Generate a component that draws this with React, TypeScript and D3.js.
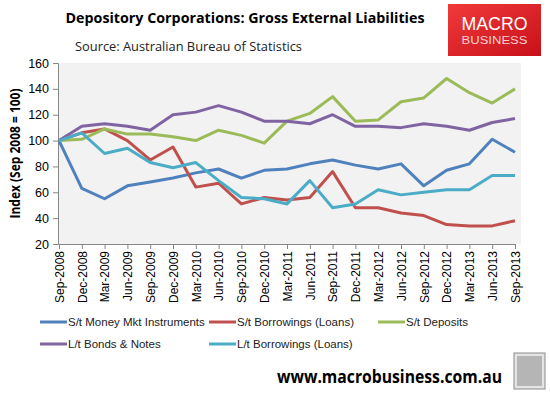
import React, { useRef, useEffect } from "react";
import * as d3 from "d3";

// quarterly categories
const quarters = [
  "Sep-2008", "Dec-2008", "Mar-2009", "Jun-2009", "Sep-2009", "Dec-2009", "Mar-2010",
  "Jun-2010", "Sep-2010", "Dec-2010", "Mar-2011", "Jun-2011", "Sep-2011", "Dec-2011",
  "Mar-2012", "Jun-2012", "Sep-2012", "Dec-2012", "Mar-2013", "Jun-2013", "Sep-2013",
];

// index values (Sep 2008 = 100)
const moneyMkt = [100, 63, 55, 65, 68, 71, 75, 78, 71, 77, 78, 82, 85, 81, 78, 82, 65, 77, 82, 101, 91];
const stBorrowings = [100, 106, 109, 100, 85, 95, 64, 67, 51, 56, 54, 56, 76, 48, 48, 44, 42, 35, 34, 34, 38];
const stDeposits = [100, 101, 109, 105, 105, 103, 100, 108, 104, 98, 115, 121, 134, 115, 116, 130, 133, 148, 137, 129, 140];
const ltBonds = [100, 111, 113, 111, 108, 120, 122, 127, 122, 115, 115, 113, 120, 111, 111, 110, 113, 111, 108, 114, 117];
const ltBorrowings = [100, 106, 90, 94, 83, 79, 83, 69, 56, 55, 51, 69, 48, 51, 62, 58, 60, 62, 62, 73, 73];

const yTicks = [20, 40, 60, 80, 100, 120, 140, 160];

const seriesNames = [
  "S/t Money Mkt Instruments",
  "S/t Borrowings (Loans)",
  "S/t Deposits",
  "L/t Bonds & Notes",
  "L/t Borrowings (Loans)",
];
const seriesColors = ["#4f81bd", "#c0504d", "#9bbb59", "#8064a2", "#4bacc6"];
const seriesValues = [moneyMkt, stBorrowings, stDeposits, ltBonds, ltBorrowings];

const width = 550;
const height = 396;
const plot = { left: 58, right: 521, top: 63, bottom: 244 };

const App = () => {
  const xAxisRef = useRef(null);
  const yAxisRef = useRef(null);

  const xScale = d3.scalePoint().domain(quarters).range([59, 515]);
  const yScale = d3.scaleLinear().domain([20, 160]).range([plot.bottom, plot.top]);

  const line = d3
    .line<number>()
    .x((d, i) => xScale(quarters[i]) as number)
    .y(d => yScale(d));

  useEffect(() => {
    const gx = d3.select(xAxisRef.current);
    gx.selectAll("*").remove();
    gx.call(d3.axisBottom(xScale).tickSizeOuter(0).tickSize(5).tickPadding(3));
    gx.select(".domain").attr("stroke", "#868686");
    gx.selectAll(".tick line").attr("stroke", "#868686");
    gx.selectAll(".tick text")
      .attr("transform", "rotate(-90)")
      .attr("x", -7)
      .attr("y", 0)
      .attr("dy", "0.35em")
      .style("text-anchor", "end")
      .style("font-family", "'Liberation Sans', Arial, sans-serif")
      .style("font-size", "12px")
      .attr("fill", "#000");

    const gy = d3.select(yAxisRef.current);
    gy.selectAll("*").remove();
    gy.call(d3.axisLeft(yScale).tickValues(yTicks).tickSizeOuter(0).tickSize(5).tickPadding(4));
    gy.select(".domain").attr("stroke", "#868686");
    gy.selectAll(".tick line").attr("stroke", "#868686");
    gy.selectAll(".tick text")
      .style("font-family", "'Liberation Sans', Arial, sans-serif")
      .style("font-size", "12.5px")
      .attr("fill", "#000");
  }, []);

  const legendCols = [40, 209, 378];
  const legendRows = [322, 344];

  return (
    <svg
      width={width}
      height={height}
      style={{ position: "absolute", left: 0, top: 0, background: "#fff" }}
    >
      <defs>
        <linearGradient id="logoGrad" x1="0" y1="0" x2="1" y2="1">
          <stop offset="0%" stopColor="#f03a3a" />
          <stop offset="100%" stopColor="#c8101a" />
        </linearGradient>
      </defs>

      {/* title */}
      <text
        x={245}
        y={23}
        textAnchor="middle"
        textLength={359}
        lengthAdjust="spacingAndGlyphs"
        style={{ fontFamily: "'Open Sans', sans-serif", fontWeight: "bold", fontSize: "15px" }}
      >
        Depository Corporations: Gross External Liabilities
      </text>
      <text
        x={75}
        y={51}
        textLength={227}
        lengthAdjust="spacingAndGlyphs"
        style={{ fontFamily: "'Open Sans', sans-serif", fontSize: "13.5px", fill: "#222" }}
      >
        Source: Australian Bureau of Statistics
      </text>

      {/* logo */}
      <rect x={448} y={4} width={93} height={52} fill="url(#logoGrad)" />
      <text
        x={494.5}
        y={30}
        textAnchor="middle"
        textLength={66}
        lengthAdjust="spacingAndGlyphs"
        style={{ fontFamily: "'Liberation Sans', Arial, sans-serif", fontSize: "18px", fill: "#fff" }}
      >
        MACRO
      </text>
      <text
        x={494.5}
        y={43.5}
        textAnchor="middle"
        textLength={66}
        lengthAdjust="spacingAndGlyphs"
        style={{ fontFamily: "'Liberation Sans', Arial, sans-serif", fontSize: "10px", fill: "#f7d0d0" }}
      >
        BUSINESS
      </text>

      {/* plot area */}
      <rect
        x={plot.left}
        y={plot.top}
        width={plot.right - plot.left}
        height={plot.bottom - plot.top}
        fill="#f2f2f2"
      />

      <g ref={yAxisRef} transform={`translate(${plot.left},0)`} />
      <g ref={xAxisRef} transform={`translate(0,${plot.bottom})`} />

      {/* y axis title */}
      <text
        transform={`translate(20,${(plot.top + plot.bottom) / 2}) rotate(-90)`}
        textAnchor="middle"
        textLength={130}
        lengthAdjust="spacingAndGlyphs"
        style={{ fontFamily: "'Open Sans', sans-serif", fontWeight: "bold", fontSize: "14px" }}
      >
        Index (Sep 2008 = 100)
      </text>

      {/* lines */}
      {seriesValues.map((vals, i) => (
        <path
          key={seriesNames[i]}
          d={line(vals) as string}
          fill="none"
          stroke={seriesColors[i]}
          strokeWidth={3}
          strokeLinejoin="round"
        />
      ))}

      {/* legend */}
      {seriesNames.map((name, i) => {
        const lx = legendCols[i % 3];
        const ly = legendRows[Math.floor(i / 3)];
        return (
          <g key={name} transform={`translate(${lx},${ly})`}>
            <line x1={0} x2={27} y1={0} y2={0} stroke={seriesColors[i]} strokeWidth={3} />
            <text
              x={28}
              y={0}
              dy="0.35em"
              style={{ fontFamily: "'Liberation Sans', Arial, sans-serif", fontSize: "11.5px", fill: "#222" }}
            >
              {name}
            </text>
          </g>
        );
      })}

      {/* footer */}
      <text
        x={277}
        y={383}
        textLength={225}
        lengthAdjust="spacingAndGlyphs"
        style={{ fontFamily: "'Open Sans', sans-serif", fontWeight: "bold", fontSize: "17px" }}
      >
        www.macrobusiness.com.au
      </text>
      <rect x={514} y={353} width={31} height={36} fill="#e4e4e4" stroke="#8a8a8a" strokeWidth={1} />
      <rect x={517} y={356} width={25} height={30} fill="#b5b5b5" />
    </svg>
  );
};

export default App;
